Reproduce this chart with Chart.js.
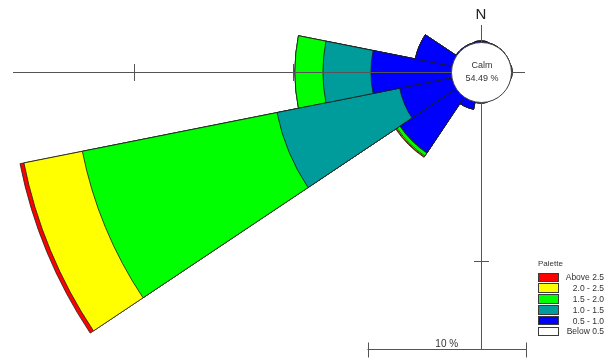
<!DOCTYPE html>
<html>
<head>
<meta charset="utf-8">
<script src="https://cdn.jsdelivr.net/npm/chart.js@4.4.1/dist/chart.umd.min.js"></script>
<style>
  html, body { margin: 0; padding: 0; background: #fff; }
  #wrap { position: relative; width: 614px; height: 361px; overflow: hidden; }
  #rose { position: absolute; left: 0; top: 0; }
  #legend {
    position: absolute; left: 538px; top: 259px; width: 66px;
    font-family: "Liberation Sans", Arial, sans-serif; color: #333;
  }
  #legend .title { font-size: 8px; line-height: 10px; height: 13px; }
  #legend .row { display: flex; align-items: center; height: 10.8px; }
  #legend .box {
    width: 21px; height: 9.6px; box-sizing: border-box;
    border: 1px solid #3a3a3a; flex: none;
  }
  #legend .lbl { flex: 1; text-align: right; font-size: 8.5px; line-height: 10px; }
</style>
</head>
<body>
<div id="wrap">
  <canvas id="rose" width="614" height="361"></canvas>
  <div id="legend"></div>
</div>
<script>
// 16 compass sectors, clockwise from north
const directions = ['N', 'NNE', 'NE', 'ENE', 'E', 'ESE', 'SE', 'SSE',
                    'S', 'SSW', 'SW', 'WSW', 'W', 'WNW', 'NW', 'NNW'];

// wind speed classes (m/s), innermost first
const speedClasses = ['0.5 - 1.0', '1.0 - 1.5', '1.5 - 2.0', '2.0 - 2.5', 'Above 2.5'];
const classColors  = ['#0000ff', '#009c9c', '#00ff00', '#ffff00', '#ff0000'];

// frequency (%) of each speed class per direction
const freq0510 = [0.06, 0, 0, 0, 0.06, 0, 0, 0, 0.06, 0.5, 4.23, 3.34, 5.05, 2.33, 0, 0];
const freq1015 = [0, 0, 0, 0, 0, 0, 0, 0, 0, 0,    0.03, 7.89, 3.03, 0,    0, 0];
const freq1520 = [0, 0, 0, 0, 0, 0, 0, 0, 0, 0,    0.22, 12.52, 1.77, 0,   0, 0];
const freq2025 = [0, 0, 0, 0, 0, 0, 0, 0, 0, 0,    0.06, 3.76, 0,    0,    0, 0];
const freqAbove25 = [0, 0, 0, 0, 0, 0, 0, 0, 0, 0, 0.04, 0.25, 0,    0,    0, 0];

const calmPct = 54.49;
const calmLabel = 'Calm';
const scaleBarPct = 10;
const axisTickStep = 10;

const legendLabels = ['Above 2.5', '2.0 - 2.5', '1.5 - 2.0', '1.0 - 1.5', '0.5 - 1.0', 'Below 0.5'];
const legendColors = ['#ff0000', '#ffff00', '#00ff00', '#009c9c', '#0000ff', '#ffffff'];

// layout (pixels)
const LAYOUT = {
  cx: 481, cy: 72,          // rose centre
  calmRadius: 30,           // radius of the calm circle
  pxPerPct: 15.85,          // radial length of 1 %
  axisLeft: 13, axisRight: 525, axisTop: 25,
  barY: 349, barRight: 526
};

// stack the classes outward: each layer ends at the cumulative frequency
const classSeries = [freq0510, freq1015, freq1520, freq2025, freqAbove25];
const cumulative = classSeries.map((_, k) =>
  directions.map((d, i) => classSeries.slice(0, k + 1).reduce((a, s) => a + s[i], 0)));

const rMin = -LAYOUT.calmRadius / LAYOUT.pxPerPct;
const rMax = Math.max(...cumulative[cumulative.length - 1]) + 0.5;

const roseDecor = {
  id: 'roseDecor',
  afterDatasetsDraw(chart) {
    const s = chart.scales.r;
    const ctx = chart.ctx;
    const cx = s.xCenter, cy = s.yCenter;
    const dist = v => s.getDistanceFromCenterForValue(v);
    const rCalm = dist(0);
    ctx.save();
    ctx.strokeStyle = '#555';
    ctx.lineWidth = 1;

    // compass axes
    ctx.beginPath();
    ctx.moveTo(LAYOUT.axisLeft, cy + 0.5);
    ctx.lineTo(LAYOUT.axisRight, cy + 0.5);
    ctx.moveTo(cx + 0.5, LAYOUT.axisTop);
    ctx.lineTo(cx + 0.5, LAYOUT.barY);
    ctx.stroke();

    // percentage ticks on the west and south axes
    ctx.beginPath();
    for (let v = axisTickStep; cx - dist(v) > LAYOUT.axisLeft; v += axisTickStep) {
      const x = Math.round(cx - dist(v)) + 0.5;
      ctx.moveTo(x, cy - 8); ctx.lineTo(x, cy + 9);
    }
    for (let v = axisTickStep; cy + dist(v) < LAYOUT.barY - 10; v += axisTickStep) {
      const y = Math.round(cy + dist(v)) + 0.5;
      ctx.moveTo(cx - 7, y); ctx.lineTo(cx + 8, y);
    }
    ctx.stroke();

    // scale bar
    const barLen = dist(scaleBarPct) - dist(0);
    const bx1 = LAYOUT.barRight, bx0 = bx1 - barLen, by = LAYOUT.barY + 0.5;
    ctx.beginPath();
    ctx.moveTo(bx0, by); ctx.lineTo(bx1, by);
    ctx.moveTo(Math.round(bx0) + 0.5, by - 7); ctx.lineTo(Math.round(bx0) + 0.5, by + 8);
    ctx.moveTo(Math.round(bx1) + 0.5, by - 7); ctx.lineTo(Math.round(bx1) + 0.5, by + 8);
    ctx.stroke();

    ctx.fillStyle = '#333';
    ctx.font = '10px "Liberation Sans", Arial, sans-serif';
    ctx.textAlign = 'center';
    ctx.textBaseline = 'alphabetic';
    ctx.fillText(scaleBarPct + ' %', (bx0 + bx1) / 2, by - 3);

    // calm circle
    ctx.beginPath();
    ctx.arc(cx + 0.5, cy + 0.5, rCalm, 0, Math.PI * 2);
    ctx.fillStyle = '#fff';
    ctx.fill();
    ctx.strokeStyle = '#444';
    ctx.stroke();

    ctx.fillStyle = '#333';
    ctx.font = '9px "Liberation Sans", Arial, sans-serif';
    ctx.textBaseline = 'middle';
    ctx.fillText(calmLabel, cx + 1, cy - 6);
    ctx.fillText(calmPct.toFixed(2) + ' %', cx + 1, cy + 7);

    // north marker
    ctx.fillStyle = '#222';
    ctx.font = '15px "Liberation Sans", Arial, sans-serif';
    ctx.textBaseline = 'alphabetic';
    ctx.fillText(directions[0], cx, 19);
    ctx.restore();
  }
};

new Chart(document.getElementById('rose'), {
  type: 'polarArea',
  data: {
    labels: directions,
    datasets: speedClasses.map((name, k) => ({
      label: name,
      data: cumulative[k],
      backgroundColor: classColors[k],
      borderColor: '#1c1c1c',
      borderWidth: 0.8
    }))
  },
  options: {
    responsive: false,
    animation: false,
    events: [],
    layout: { padding: 0 },
    plugins: { legend: { display: false }, tooltip: { enabled: false } },
    scales: {
      r: {
        min: rMin,
        max: rMax,
        beginAtZero: false,
        startAngle: -11.25,
        ticks: { display: false },
        grid: { display: false },
        angleLines: { display: false },
        pointLabels: { display: false },
        afterFit(scale) {
          scale.min = rMin;
          scale.max = rMax;
          scale.xCenter = LAYOUT.cx;
          scale.yCenter = LAYOUT.cy;
          scale.drawingArea = (rMax - rMin) * LAYOUT.pxPerPct;
        }
      }
    }
  },
  plugins: [roseDecor]
});

// legend
const legend = document.getElementById('legend');
const title = document.createElement('div');
title.className = 'title';
title.textContent = 'Palette';
legend.appendChild(title);
legendLabels.forEach((lbl, i) => {
  const row = document.createElement('div');
  row.className = 'row';
  const box = document.createElement('div');
  box.className = 'box';
  box.style.background = legendColors[i];
  const t = document.createElement('div');
  t.className = 'lbl';
  t.textContent = lbl;
  row.appendChild(box);
  row.appendChild(t);
  legend.appendChild(row);
});
</script>
</body>
</html>
